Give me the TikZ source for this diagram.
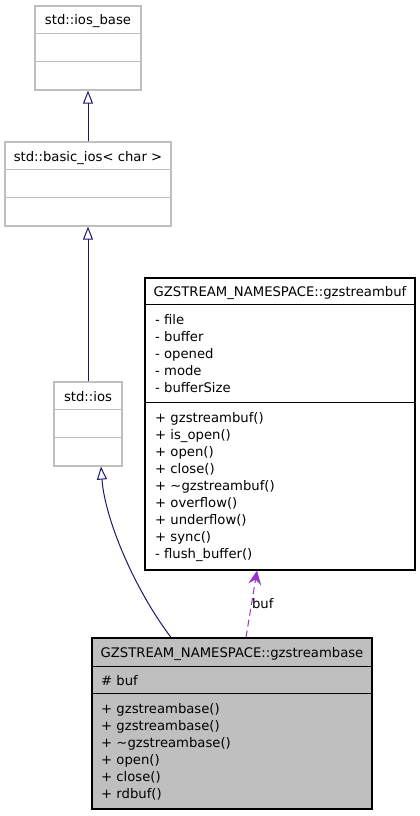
\documentclass[tikz,border=0pt]{standalone}
\usepackage{fontspec}
\setmainfont{DejaVu Sans}
\usetikzlibrary{arrows.meta}

\definecolor{edgeblue}{HTML}{191970}
\definecolor{edgepurple}{HTML}{9A32CD}
\definecolor{boxgray}{HTML}{BFBFBF}

\begin{document}
\begin{tikzpicture}[
x=1pt,
y=-1pt,
font=\fontsize{13.2}{15}\selectfont,
extclass/.style={
draw=boxgray,
line width=1.2pt,
inner sep=0
},
docclass/.style={
draw=black,
line width=1.2pt,
inner sep=0
},
ctitle/.style={anchor=base, inner sep=0},
member/.style={anchor=base west, inner sep=0},
inherit/.style={draw=edgeblue, line width=1pt, -{Triangle[open, length=13pt, width=10pt]}},
uses/.style={draw=edgepurple, line width=1pt, dash pattern=on 7pt off 4pt, -{Stealth[length=14pt, width=13pt, inset=5pt]}}
]
\useasboundingbox (0,0) rectangle (420,816);

% library classes
\node[extclass, minimum width=106pt, minimum height=84pt] (iosbase) at (88,48) {};
\node[ctitle] (iosbasetitle) at (88,25) {std::ios\_base};
\draw[boxgray, line width=1.2pt] ([yshift=-28pt]iosbase.north west) -- ([yshift=-28pt]iosbase.north east);
\draw[boxgray, line width=1.2pt] ([yshift=-56pt]iosbase.north west) -- ([yshift=-56pt]iosbase.north east);

\node[extclass, minimum width=166pt, minimum height=84pt] (basicios) at (88,184) {};
\node[ctitle] (basiciostitle) at (88,161) {std::basic\_ios< char >};
\draw[boxgray, line width=1.2pt] ([yshift=-28pt]basicios.north west) -- ([yshift=-28pt]basicios.north east);
\draw[boxgray, line width=1.2pt] ([yshift=-56pt]basicios.north west) -- ([yshift=-56pt]basicios.north east);

\node[extclass, minimum width=68pt, minimum height=84pt] (ios) at (88,424) {};
\node[ctitle] (iostitle) at (88,401) {std::ios};
\draw[boxgray, line width=1.2pt] ([yshift=-28pt]ios.north west) -- ([yshift=-28pt]ios.north east);
\draw[boxgray, line width=1.2pt] ([yshift=-56pt]ios.north west) -- ([yshift=-56pt]ios.north east);

% gzstreambuf
\node[docclass, minimum width=270pt, minimum height=292pt] (gzbuf) at (280,424) {};
\node[ctitle] (gzbuftitle) at (280,296) {GZSTREAM\_NAMESPACE::gzstreambuf};
\draw[line width=1.2pt] ([yshift=-27pt]gzbuf.north west) -- ([yshift=-27pt]gzbuf.north east);
\draw[line width=1.2pt] ([yshift=-125pt]gzbuf.north west) -- ([yshift=-125pt]gzbuf.north east);
\foreach \m [count=\i from 0] in {- file, - buffer, - opened, - mode, - bufferSize}
  \node[member] (bufattr\i) at (155, 324+17.2*\i) {\m};
\foreach \m [count=\i from 0] in {+ gzstreambuf(), + is\_open(), + open(), + close(),
  + \textasciitilde gzstreambuf(), + overflow(), + underflow(), + sync(), - flush\_buffer()}
  \node[member] (bufop\i) at (155, 422+17.1*\i) {\m};

% gzstreambase
\node[docclass, fill=boxgray, minimum width=280pt, minimum height=171pt] (gzbase) at (232,723.5) {};
\node[ctitle] (gzbasetitle) at (232,657) {GZSTREAM\_NAMESPACE::gzstreambase};
\draw[line width=1.2pt] ([yshift=-29pt]gzbase.north west) -- ([yshift=-29pt]gzbase.north east);
\draw[line width=1.2pt] ([yshift=-56pt]gzbase.north west) -- ([yshift=-56pt]gzbase.north east);
\node[member] (baseattr) at (101,685) {\# buf};
\foreach \m [count=\i from 0] in {+ gzstreambase(), + gzstreambase(), + \textasciitilde gzstreambase(),
  + open(), + close(), + rdbuf()}
  \node[member] (baseop\i) at (101, 713+17*\i) {\m};

% arrows
\draw[inherit] (basicios) -- (iosbase);
\draw[inherit] (ios) -- (basicios);
\draw[inherit] ([xshift=-61pt]gzbase.north) .. controls (135,590) and (105,520) .. ([xshift=13pt]ios.south);
\draw[uses] ([xshift=14pt]gzbase.north) -- ([xshift=-23pt]gzbuf.south)
  node[pos=0.5, anchor=west, inner sep=0] (buflabel) {buf};

\end{tikzpicture}
\end{document}
